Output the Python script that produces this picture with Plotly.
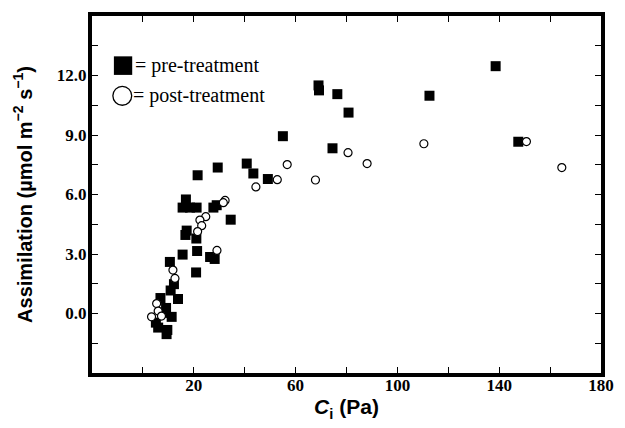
import plotly.graph_objects as go

# pre-treatment (filled squares)
pre_ci = [138.6, 69.0, 69.2, 76.4, 112.6, 80.8, 55.0, 147.5, 74.5, 40.8, 29.4, 43.4, 21.5, 49.1,
          16.9, 15.6, 18.5, 21.1, 27.7, 29.0, 34.5, 17.2, 16.7, 21.0, 15.6, 21.3, 26.4, 28.2,
          20.9, 10.6, 12.2, 10.9, 13.8, 6.9, 9.1, 11.3, 5.1, 6.0, 9.6, 9.3, 8.3]
pre_a = [12.47, 11.5, 11.25, 11.06, 10.98, 10.13, 8.94, 8.66, 8.33, 7.56, 7.36, 7.06, 6.97, 6.78,
         5.75, 5.34, 5.34, 5.34, 5.34, 5.46, 4.73, 4.18, 3.96, 3.78, 2.97, 3.15, 2.85, 2.75,
         2.07, 2.6, 1.48, 1.16, 0.73, 0.78, 0.28, -0.17, -0.46, -0.71, -0.83, -1.04, 0.03]

# post-treatment (open circles)
post_ci = [110.4, 150.7, 164.6, 80.6, 88.1, 56.7, 67.8, 52.8, 44.4, 32.3, 31.6, 24.7, 22.4,
           23.1, 21.5, 29.1, 11.8, 12.6, 5.4, 6.0, 3.4, 7.3]
post_a = [8.56, 8.67, 7.36, 8.11, 7.56, 7.51, 6.73, 6.75, 6.38, 5.70, 5.59, 4.88, 4.71,
          4.43, 4.13, 3.18, 2.19, 1.77, 0.50, 0.12, -0.17, -0.13]

x_ticks = [20, 60, 100, 140, 180]
x_labels = ['20', '60', '100', '140', '180']
x_minor = [0, 40, 80, 120, 160]
y_ticks = [0, 3, 6, 9, 12]
y_labels = ['0.0', '3.0', '6.0', '9.0', '12.0']
y_minor = [-1.5, 1.5, 4.5, 7.5, 10.5, 13.5]

fig = go.Figure()
fig.add_trace(go.Scatter(x=pre_ci, y=pre_a, mode='markers',
                         marker=dict(symbol='square', size=10, color='black'),
                         showlegend=False))
fig.add_trace(go.Scatter(x=post_ci, y=post_a, mode='markers',
                         marker=dict(symbol='circle', size=8, color='white',
                                     line=dict(color='black', width=1.2)),
                         showlegend=False))

serif = 'Liberation Serif'
axis_common = dict(showgrid=False, zeroline=False, showline=True, linecolor='black',
                   linewidth=4, mirror='ticks', ticks='inside', ticklen=6, tickwidth=1,
                   tickcolor='black',
                   tickfont=dict(family=serif, size=17, color='black', weight='bold'))

fig.update_xaxes(range=[-20, 180], tickvals=x_ticks, ticktext=x_labels,
                 ticklabelstandoff=-6,
                 minor=dict(tickvals=x_minor, ticks='inside', ticklen=6, tickwidth=1,
                            tickcolor='black', showgrid=False),
                 title=dict(text='<i>C</i><sub>i</sub> (Pa)', standoff=6,
                            font=dict(family='Liberation Sans', size=21, color='black',
                                      weight='bold')),
                 **axis_common)
fig.update_yaxes(range=[-3, 15], tickvals=y_ticks, ticktext=y_labels,
                 ticklabelstandoff=-2,
                 minor=dict(tickvals=y_minor, ticks='inside', ticklen=6, tickwidth=1,
                            tickcolor='black', showgrid=False),
                 title=dict(text='Assimilation (µmol m<sup>−2</sup> s<sup>−1</sup>)', standoff=20,
                            font=dict(family='Liberation Sans', size=20, color='black',
                                      weight='bold')),
                 **axis_common)

# hand-drawn style legend inside the frame
fig.add_shape(type='rect', xref='paper', yref='paper', x0=0.043, x1=0.079, y0=0.835, y1=0.887,
              fillcolor='black', line=dict(color='black', width=0))
fig.add_shape(type='circle', xref='paper', yref='paper', x0=0.041, x1=0.078, y0=0.750, y1=0.803,
              fillcolor='white', line=dict(color='black', width=1.3))
fig.add_annotation(xref='paper', yref='paper', x=0.080, y=0.861, xanchor='left', yanchor='middle',
                   text='= pre-treatment', showarrow=False,
                   font=dict(family=serif, size=20, color='black'))
fig.add_annotation(xref='paper', yref='paper', x=0.077, y=0.777, xanchor='left', yanchor='middle',
                   text='= post-treatment', showarrow=False,
                   font=dict(family=serif, size=20, color='black'))

# page body adds an 8px offset, so the figure is shifted by that amount
fig.update_layout(width=617, height=420, plot_bgcolor='white', paper_bgcolor='white',
                  margin=dict(l=84, r=24, t=4, b=55))

fig.write_html("out.html")
